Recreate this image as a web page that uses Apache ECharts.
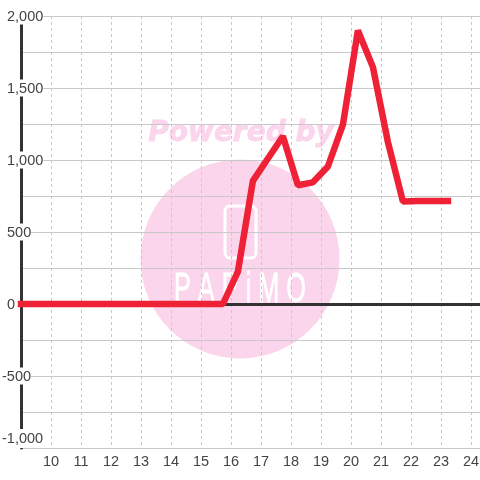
<!DOCTYPE html>
<html>
<head>
<meta charset="utf-8">
<style>
  html, body { margin: 0; padding: 0; background: #fff; }
  #chart { width: 480px; height: 480px; }
</style>
<script src="https://cdn.jsdelivr.net/npm/echarts@6/dist/echarts.min.js"></script>
</head>
<body>
<div id="chart"></div>
<script>
var hours = [9, 9.23, 9.73, 10.23, 10.73, 11.23, 11.73, 12.23, 12.73, 13.23, 13.73, 14.23, 14.73, 15.23, 15.73,
  16.23, 16.73, 17.23, 17.73, 18.23, 18.73, 19.23, 19.73, 20.23, 20.73, 21.23, 21.73, 22.23, 22.73, 23.23];
var values = [0, 0, 0, 0, 0, 0, 0, 0, 0, 0, 0, 0, 0, 0, 0,
  225, 855, 1010, 1165, 825, 845, 955, 1245, 1900, 1645, 1125, 712, 716, 716, 716];

var pink = "#fbd5ec";
var chart = echarts.init(document.getElementById("chart"));

function yLabel(v) {
  var s = Math.abs(v).toLocaleString("en-US");
  if (v === -1000) {
    return "{low|-" + s + "}";
  }
  return v < 0 ? "-" + s : "{gap|}" + s;
}

chart.setOption({
  animation: false,
  backgroundColor: "#fff",
  textStyle: { fontFamily: "Liberation Sans" },
  grid: { left: 21, right: 0, top: 16, bottom: 32, outerBoundsMode: "none" },
  xAxis: {
    type: "value",
    min: 9,
    max: 24.3,
    interval: 1,
    axisLine: { onZero: false, show: false },
    axisTick: { show: false },
    axisLabel: {
      color: "#444",
      fontSize: 14.5,
      margin: 6,
      showMinLabel: false,
      showMaxLabel: false,
    },
    splitLine: {
      show: true,
      showMinLine: false,
      showMaxLine: false,
      lineStyle: { color: "#c8c8c8", width: 1, type: [3, 3] },
    },
  },
  yAxis: {
    type: "value",
    min: -1000,
    max: 2000,
    interval: 500,
    axisLine: { show: true, lineStyle: { color: "#333", width: 3 } },
    axisTick: { show: false },
    axisLabel: {
      color: "#444",
      fontSize: 14.5,
      align: "left",
      margin: 19,
      padding: [2, 0, 0, 0],
      backgroundColor: "#fff",
      verticalAlignMinLabel: "bottom",
      formatter: yLabel,
      rich: {
        gap: { width: 5 },
        low: { color: "#444", fontSize: 14.5, padding: [0, 0, 2, 0] },
      },
    },
    splitLine: { show: true, lineStyle: { color: "#c8c8c8", width: 1 } },
    minorTick: { show: false, splitNumber: 2 },
    minorSplitLine: { show: true, lineStyle: { color: "#c8c8c8", width: 1 } },
  },
  graphic: {
    elements: [
      { type: "circle", z: -10, shape: { cx: 240, cy: 259, r: 99.5 }, style: { fill: pink } },
      {
        type: "text", z: -9, x: 241, y: 134,
        style: {
          text: "Powered by",
          fill: pink,
          stroke: pink,
          lineWidth: 0.8,
          font: "italic bold 28px 'DejaVu Sans'",
          align: "center",
          verticalAlign: "middle",
        },
      },
      {
        type: "rect", z: -9,
        shape: { x: 225, y: 206, width: 31, height: 52, r: 5 },
        style: { fill: "none", stroke: "#fff", lineWidth: 3 },
      },
      {
        type: "text", z: -9, x: 240, y: 291, scaleX: 0.79, scaleY: 1.3,
        style: {
          text: "P A P i M O",
          fill: "#fff",
          stroke: "#fff",
          lineWidth: 0.6,
          font: "32px 'Liberation Sans'",
          align: "center",
          verticalAlign: "middle",
        },
      },
    ],
  },
  series: [
    {
      type: "line",
      data: hours.map(function (h, i) {
        return [h, values[i]];
      }),
      showSymbol: false,
      clip: false,
      lineStyle: { color: "#ef2136", width: 6.5, cap: "square", join: "bevel" },
      markLine: {
        silent: true,
        symbol: "none",
        label: { show: false },
        lineStyle: { color: "#333", width: 3, type: "solid" },
        data: [{ yAxis: 0 }],
        z: 1,
      },
      z: 3,
    },
  ],
});
</script>
</body>
</html>
